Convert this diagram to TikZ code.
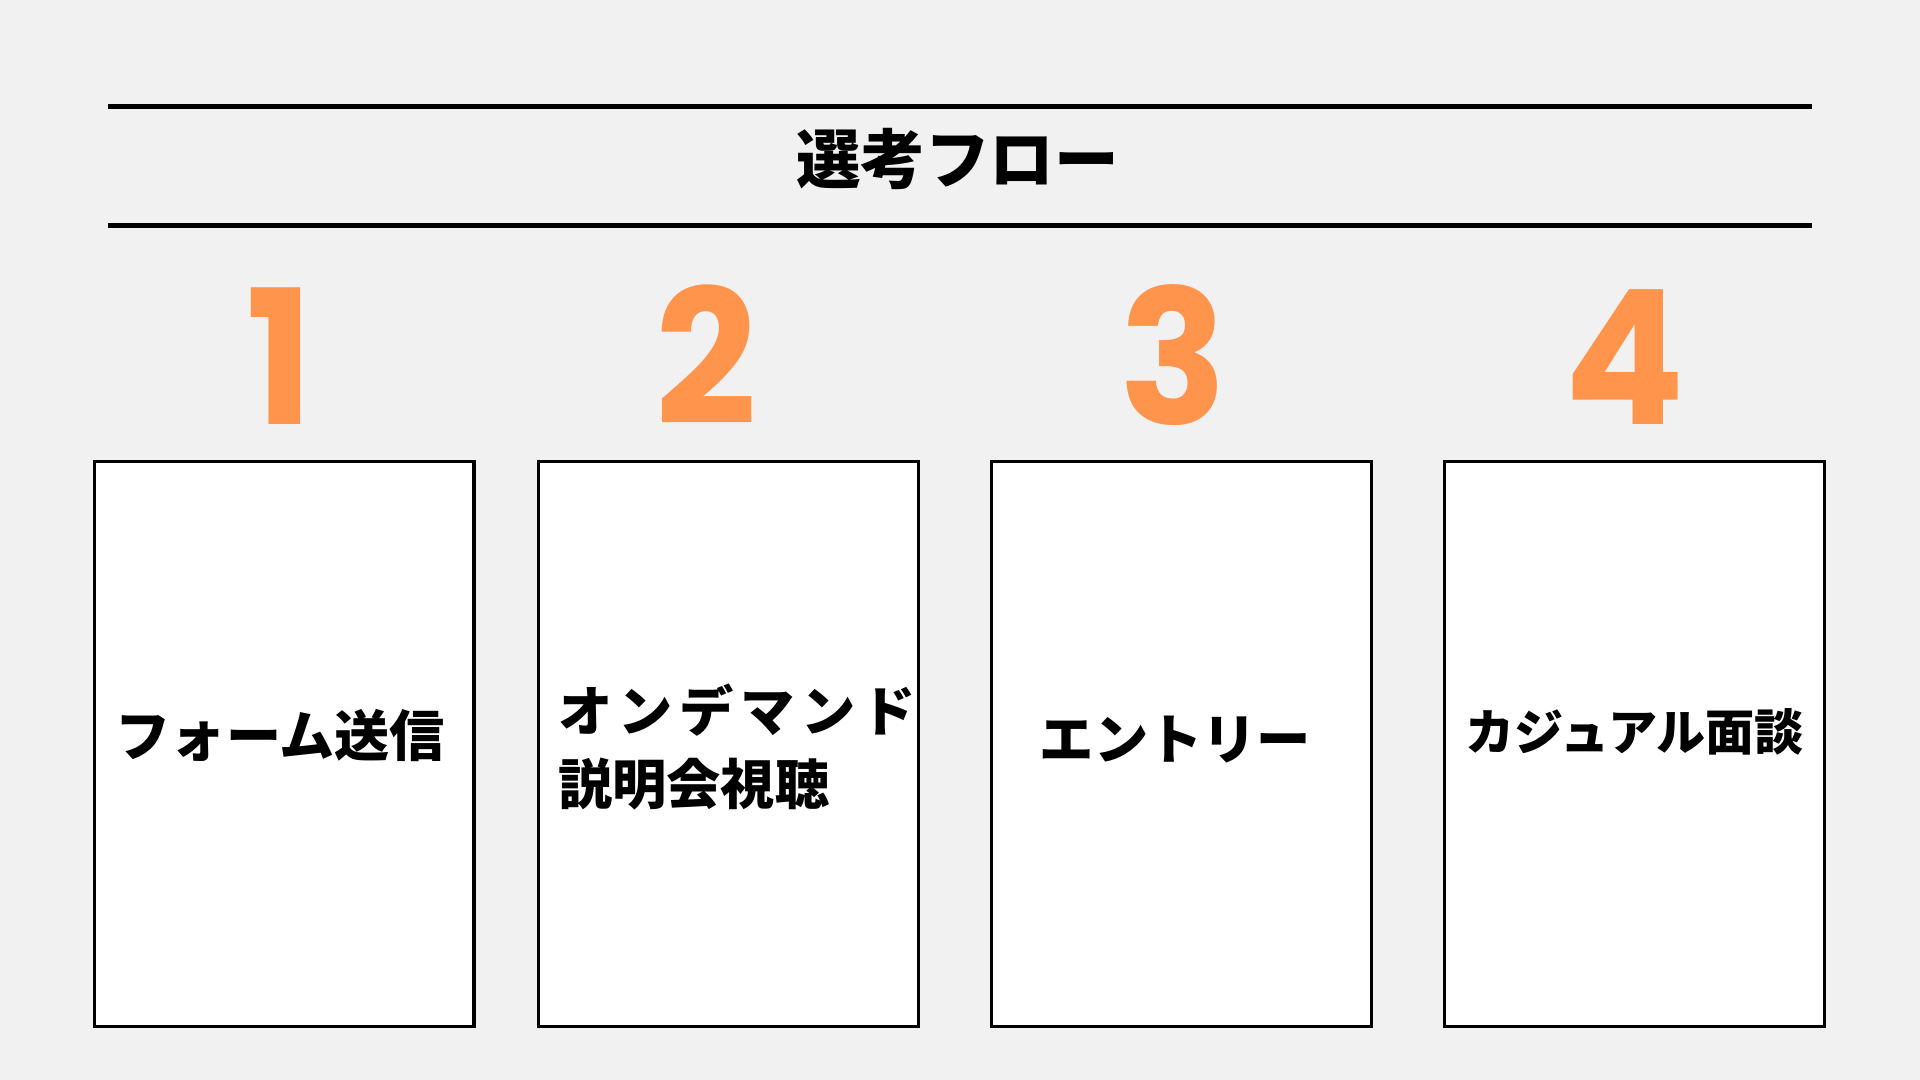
\documentclass[tikz,border=0pt]{standalone}
\usepackage{fontspec}
\usepackage{xcolor}
\usepackage{tikz}
\newfontfamily\jpfont{Noto Sans CJK JP}
\newfontfamily\numfont{Poppins}
\definecolor{bggray}{HTML}{F1F1F1}
\definecolor{steporange}{HTML}{FF944C}
\tikzset{
  rule/.style={line width=1.1pt,black},
  stepbox/.style={draw=black,line width=0.75pt,fill=white,minimum width=3.1cm,minimum height=4.61cm,inner sep=0pt},
  stepnum/.style={anchor=base,text=steporange,inner sep=0pt,font=\numfont\bfseries\fontsize{43.5pt}{48pt}\selectfont},
  steplabel/.style={anchor=base,inner sep=0pt,font=\jpfont\bfseries\fontsize{12.6pt}{15pt}\selectfont}
}
\begin{document}
\begin{tikzpicture}[x=0.01cm,y=-0.01cm]
                    \fill[bggray] (0,0) rectangle (1568,882);
                    \useasboundingbox (0,0) rectangle (1568,882);

                    \coordinate (ruleAl) at (88,87);
                    \coordinate (ruleAr) at (1480,87);
                    \coordinate (ruleBl) at (88,184);
                    \coordinate (ruleBr) at (1480,184);
                    \draw[rule] (ruleAl) -- (ruleAr);
                    \draw[rule] (ruleBl) -- (ruleBr);
                    \node[anchor=base,inner sep=0pt,font=\jpfont\bfseries\fontsize{15pt}{18pt}\selectfont] (title) at (782,150) {選考フロー};

                    \node[stepnum,xscale=0.95] (num1) at (229,347) {1};
                    \node[stepnum,xscale=0.95] (num2) at (577,347) {2};
                    \node[stepnum,xscale=0.95] (num3) at (958,347) {3};
                    \node[stepnum,xscale=0.95] (num4) at (1327,347) {4};

                    \node[stepbox] (box1) at (232,607.5) {};
                    \node[stepbox] (box2) at (595,607.5) {};
                    \node[stepbox] (box3) at (965,607.5) {};
                    \node[stepbox] (box4) at (1335,607.5) {};

                    \node[steplabel,font=\jpfont\bfseries\fontsize{12.8pt}{15pt}\selectfont] (lbl1) at (229,618) {フォーム送信};
                    \node[steplabel,anchor=base west,font=\jpfont\bfseries\fontsize{12.6pt}{15pt}\selectfont\addfontfeature{LetterSpace=12}] (lbl2a) at (455,597) {オンデマンド};
                    \node[steplabel,anchor=base west] (lbl2b) at (455,657) {説明会視聴};
                    \node[steplabel] (lbl3) at (960,620) {エントリー};
                    \node[steplabel,font=\jpfont\bfseries\fontsize{11.4pt}{14pt}\selectfont] (lbl4) at (1335,613) {カジュアル面談};
                \end{tikzpicture}
\end{document}
